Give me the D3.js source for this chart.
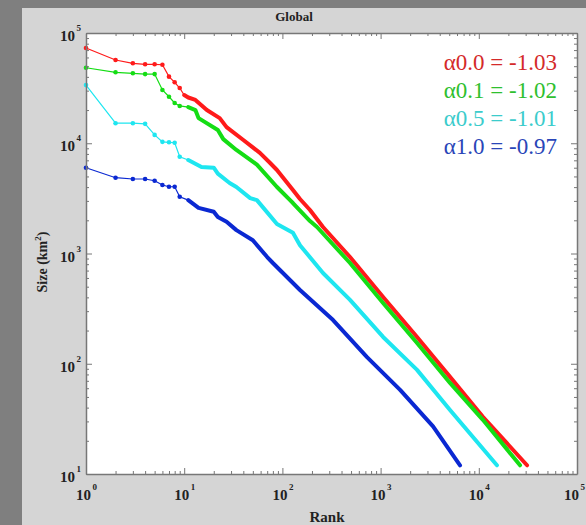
<!DOCTYPE html>
<html>
<head>
<meta charset="utf-8">
<script src="https://cdn.jsdelivr.net/npm/d3@7"></script>
<style>
  body { margin: 0; background: #7f7f7f; }
  text { font-family: "Liberation Serif", "Times New Roman", serif; }
</style>
</head>
<body>
<svg id="chart" width="586" height="525"></svg>
<script>
// rank-size points, [rank, size in km2]
const alpha00 = [[1,73100],[2,56900],[3,53100],[4,52000],[5,52000],[6,51500],[7,40200],[8,35700],[9,31700],[10,27400],
  [11,26000],[13,24700],[17,20000],[23,16900],[27,14000],[40,10700],[59,8170],[75,6620],[88,5720],[128,3770],
  [151,3120],[191,2480],[259,1740],[488,929],[1060,403],[2350,175],[5090,76],[11000,33],[31000,12]]
const alpha01 = [[1,48400],[2,44000],[3,43100],[4,42400],[5,42400],[6,30400],[7,26400],[8,23200],[9,21800],[11,21300],
  [13,20000],[14,16900],[16,15700],[22,13200],[25,10900],[34,8690],[55,6400],[88,4010],[119,3060],[128,2870],
  [191,1970],[225,1740],[488,820],[1060,356],[2350,154],[5090,67],[11000,31],[26300,12]]
const alpha05 = [[1,33700],[2,15200],[3,15200],[4,15000],[5,11900],[6,10300],[7,10200],[8,10100],[9,7550],[11,7050],
  [15,6100],[20,6000],[22,5300],[29,4360],[34,4010],[47,3180],[55,3050],[88,1850],[128,1540],[151,1190],
  [259,665],[488,379],[1060,175],[2350,88],[5090,38],[15300,12]]
const alpha10 = [[1,6000],[2,4870],[3,4740],[4,4740],[5,4570],[6,4180],[7,4030],[8,4030],[9,3270],[11,3050],
  [14,2590],[20,2390],[22,2140],[27,1940],[34,1630],[50,1320],[70,929],[80,820],[151,467],[328,249],
  [727,115],[1580,58],[3420,27],[6440,12]]

const seriesData = [alpha00, alpha01, alpha05, alpha10]
const seriesNames = ['\u03b10.0 = -1.03', '\u03b10.1 = -1.02', '\u03b10.5 = -1.01', '\u03b11.0 = -0.97']
const lineColors = ['#ff1a1a', '#14dd14', '#1ee6f0', '#0a28d2']
const labelColors = ['#d42a2a', '#2fc02f', '#3ccccc', '#2a46b8']

const xDecades = [1, 10, 100, 1000, 10000, 100000]
const yDecades = [10, 100, 1000, 10000, 100000]

const svg = d3.select('#chart')
const plotLeft = 86, plotTop = 33, plotRight = 577, plotBottom = 474

// background panels
svg.append('rect').attr('x', 22).attr('y', 8).attr('width', 564).attr('height', 517).attr('fill', '#d5d5d5')
svg.append('rect').attr('x', plotLeft).attr('y', plotTop)
  .attr('width', plotRight - plotLeft).attr('height', plotBottom - plotTop).attr('fill', '#fff')

const x = d3.scaleLog().domain([1, 1e5]).range([plotLeft, plotRight])
const y = d3.scaleLog().domain([10, 1e5]).range([plotBottom, plotTop])

function minorTicks (lo, hi) {
  var out = []
  for (var p = lo; p < hi; p *= 10) {
    for (var m = 1; m < 10; m++) out.push(p * m)
  }
  out.push(hi)
  return out
}
const isMajor = v => Math.abs(Math.log10(v) - Math.round(Math.log10(v))) < 1e-9

function styleAxis (g, horizontal, sign) {
  g.select('.domain').attr('stroke', '#777').attr('stroke-width', 1.5)
  g.selectAll('.tick line').attr('stroke', '#777').attr('stroke-width', 1)
    .each(function (d) {
      var len = isMajor(d) ? 6 : 3
      d3.select(this).attr(horizontal ? 'y2' : 'x2', sign * len)
    })
  g.selectAll('.tick text').remove()
}

const xt = minorTicks(1, 1e5)
const yt = minorTicks(10, 1e5)

// series
const line = d3.line().x(d => x(d[0])).y(d => y(d[1]))
const plot = svg.append('g')
seriesData.forEach((data, i) => {
  plot.append('path').datum(data).attr('d', line)
    .attr('fill', 'none').attr('stroke', lineColors[i]).attr('stroke-width', 1.2)
  plot.append('path').datum(data.filter(d => d[0] >= 10)).attr('d', line)
    .attr('fill', 'none').attr('stroke', lineColors[i]).attr('stroke-width', 4)
    .attr('stroke-linecap', 'round').attr('stroke-linejoin', 'round')
  plot.selectAll(null).data(data.filter(d => d[0] < 10)).enter()
    .append('circle').attr('cx', d => x(d[0])).attr('cy', d => y(d[1])).attr('r', 2.3)
    .attr('fill', lineColors[i])
})

svg.append('g').attr('transform', 'translate(0,' + plotBottom + ')')
  .call(d3.axisBottom(x).tickValues(xt).tickSizeOuter(0).tickFormat(''))
  .call(g => styleAxis(g, true, -1))
svg.append('g').attr('transform', 'translate(0,' + plotTop + ')')
  .call(d3.axisTop(x).tickValues(xt).tickSizeOuter(0).tickFormat(''))
  .call(g => styleAxis(g, true, 1))
svg.append('g').attr('transform', 'translate(' + plotLeft + ',0)')
  .call(d3.axisLeft(y).tickValues(yt).tickSizeOuter(0).tickFormat(''))
  .call(g => styleAxis(g, false, 1))
svg.append('g').attr('transform', 'translate(' + plotRight + ',0)')
  .call(d3.axisRight(y).tickValues(yt).tickSizeOuter(0).tickFormat(''))
  .call(g => styleAxis(g, false, -1))

// tick labels 10^n
function powLabel (sel, px, py, exp) {
  sel.append('text').attr('x', px).attr('y', py)
    .attr('font-size', 15).attr('font-weight', 'bold').attr('fill', '#222').attr('text-anchor', 'end')
    .text('10')
  sel.append('text').attr('x', px + 1.5).attr('y', py - 10)
    .attr('font-size', 9).attr('font-weight', 'bold').attr('fill', '#222').text(exp)
}
xDecades.forEach(v => powLabel(svg, Math.min(x(v) + 5, 579), 500, Math.round(Math.log10(v))))
yDecades.forEach(v => powLabel(svg, 75, y(v) + 8, Math.round(Math.log10(v))))

// titles
svg.append('text').attr('x', 294).attr('y', 21).attr('text-anchor', 'middle')
  .attr('font-size', 13).attr('font-weight', 'bold').attr('fill', '#222').text('Global')
svg.append('text').attr('x', 327).attr('y', 522).attr('text-anchor', 'middle')
  .attr('font-size', 15).attr('font-weight', 'bold').attr('fill', '#222').text('Rank')
const yl = svg.append('text').attr('transform', 'translate(47,262) rotate(-90)').attr('text-anchor', 'middle')
  .attr('font-size', 14).attr('font-weight', 'bold').attr('fill', '#222')
yl.append('tspan').text('Size (km')
yl.append('tspan').attr('font-size', 9).attr('dy', -6).text('2')
yl.append('tspan').attr('dy', 6).text(')')

// legend
seriesNames.forEach((name, i) => {
  svg.append('text').attr('x', 557).attr('y', 70 + i * 28).attr('text-anchor', 'end')
    .attr('font-size', 23).attr('fill', labelColors[i]).text(name)
})
</script>
</body>
</html>
